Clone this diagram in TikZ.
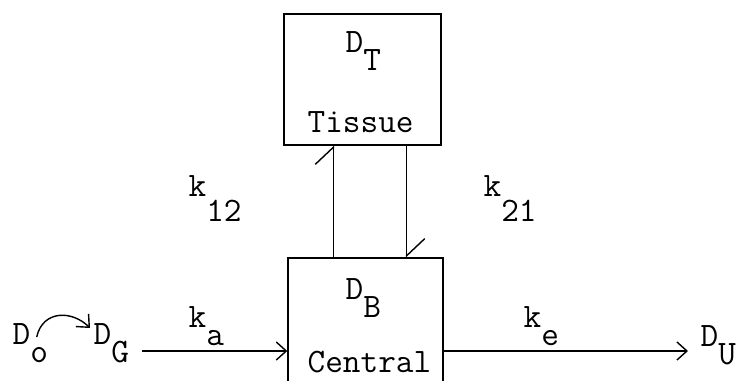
\documentclass[tikz,border=0pt]{standalone}
\usepackage{fontspec}
\setmonofont{Latin Modern Mono}
\usetikzlibrary{arrows.meta}

\newcommand{\lowr}[2][10pt]{\raisebox{-#1}{#2}}

\begin{document}
\begin{tikzpicture}[x=0.02cm, y=-0.02cm, line width=0.8pt,
    lbl/.style={anchor=base west, inner sep=0pt, font=\fontsize{19.5}{23}\selectfont\ttfamily},
    box/.style={draw, rectangle, inner sep=0pt},
    flow/.style={-{Straight Barb[length=2mm, width=3.6mm]}},
    half/.style={-{Straight Barb[left, length=3.4mm, width=7.2mm]}}]
                \useasboundingbox (0,0) rectangle (737,381);
                \clip (0,0) rectangle (737,381);

                \node[box, minimum width=3.14cm, minimum height=2.62cm] (tissue) at (362.5,79.5) {};
                \node[box, minimum width=3.1cm, minimum height=3.2cm] (central) at (365.5,338) {};

                \node[lbl] (dt) at (345,53) {D\lowr{T}};
                \node[lbl] (tis) at (307,133) {Tissue};
                \node[lbl] (db) at (345,300) {D\lowr{B}};
                \node[lbl] (cen) at (307,373) {Central};

                \node[lbl] (d0) at (12,345) {D\lowr{o}};
                \node[lbl] (dg) at (93,345) {D\lowr{G}};
                \node[lbl] (ka) at (188,328) {k\lowr{a}};
                \node[lbl] (ke) at (523,328) {k\lowr{e}};
                \node[lbl] (du) at (700,347) {D\lowr{U}};
                \node[lbl] (k12) at (188,197) {k\lowr[14pt]{12}};
                \node[lbl] (k21) at (483,197) {k\lowr[14pt]{21}};

                \coordinate (ga) at (142,351);
                \coordinate (ua) at (688,351);
                \path ([xshift=1cm]tissue.south west) coordinate (tl);
                \path ([xshift=-0.7cm]tissue.south east) coordinate (tr);

                \draw[flow] ([shift={(-0.24cm,0.16cm)}]d0.base east) .. controls +(0.12cm,0.54cm) and +(-0.36cm,0.36cm) .. ([shift={(-0.06cm,0.34cm)}]dg.base west);
                \draw[flow] (ga) -- (ga -| central.west);
                \draw[flow] (ua -| central.east) -- (ua);
                \draw[half] (tl |- central.north) -- (tl);
                \draw[half] (tr) -- (tr |- central.north);

            \end{tikzpicture}
\end{document}
